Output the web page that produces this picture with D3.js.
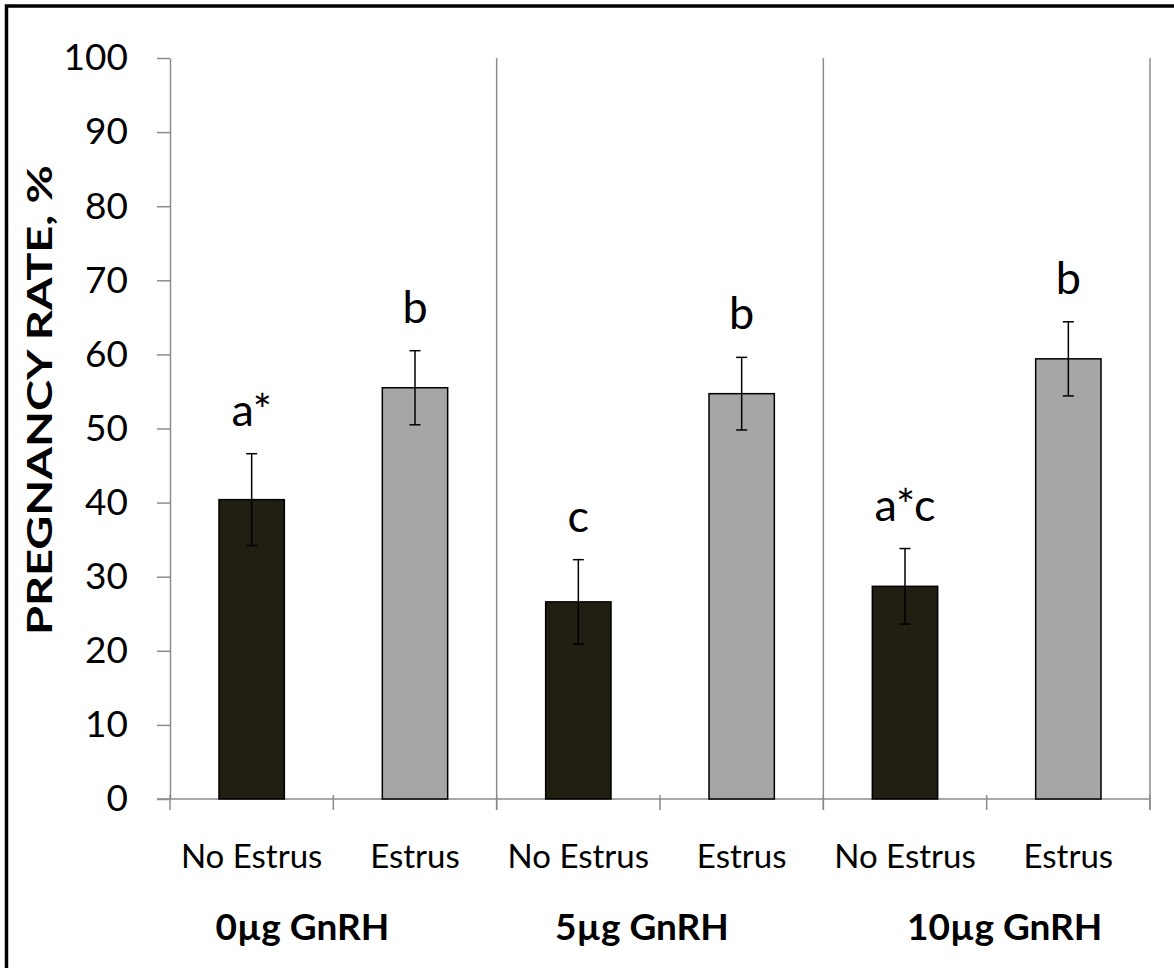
<!DOCTYPE html>
<html>
<head>
<meta charset="utf-8">
<script src="https://cdn.jsdelivr.net/npm/d3@7"></script>
<style>
  html, body { margin: 0; padding: 0; background: #fff; }
  svg { display: block; }
</style>
</head>
<body>
<svg id="chart" width="1174" height="968"></svg>
<script>
// GnRH dose groups and estrus status within each group
const groups = ["0µg GnRH", "5µg GnRH", "10µg GnRH"];
const states = ["No Estrus", "Estrus"];
// Pregnancy rate (%) per bar, in group order: [No Estrus, Estrus] x 3
const rates = [40.4, 55.5, 26.6, 54.7, 28.7, 59.4];
// Standard error of each rate
const errors = [6.2, 5.0, 5.7, 4.9, 5.1, 5.0];
// Significance letters above each bar
const letters = ["a*", "b", "c", "b", "a*c", "b"];
// Y axis ticks
const yTicks = [0, 10, 20, 30, 40, 50, 60, 70, 80, 90, 100];

const rows = rates.map((v, i) => ({
  key: i,
  group: groups[Math.floor(i / states.length)],
  state: states[i % states.length],
  value: v,
  err: errors[i],
  letter: letters[i]
}));

const svg = d3.select("#chart");
const W = 1174, H = 968;
const plot = { left: 170, right: 1150, top: 58, bottom: 799 };
const axisColor = "#8c8c8c";
const font = "Lato, 'Open Sans', sans-serif";

// outer frame
svg.append("rect")
  .attr("x", 6.5).attr("y", 6)
  .attr("width", W).attr("height", H)
  .attr("fill", "none").attr("stroke", "#000").attr("stroke-width", 3.5);

const x = d3.scaleBand()
  .domain(rows.map(d => d.key))
  .range([plot.left, plot.right])
  .paddingInner(0).paddingOuter(0);

const gx = d3.scaleBand()
  .domain(groups)
  .range([plot.left, plot.right]);

const y = d3.scaleLinear().domain([0, 100]).range([plot.bottom, plot.top]);

const barW = x.bandwidth() / 2.5;

// Y axis
const yAxis = svg.append("g")
  .attr("transform", `translate(${plot.left},0)`)
  .call(d3.axisLeft(y).tickValues(yTicks).tickSize(13).tickPadding(29).tickSizeOuter(0));
yAxis.select(".domain").attr("stroke", axisColor).attr("stroke-width", 1.5);
yAxis.selectAll(".tick line").attr("stroke", axisColor).attr("stroke-width", 1.5);
yAxis.selectAll(".tick text")
  .attr("font-family", font).attr("font-size", 37).attr("fill", "#000");

// group separators running the full plot height
svg.append("g").selectAll("line")
  .data(groups.slice(1).concat(["__end"]))
  .join("line")
  .attr("x1", d => d === "__end" ? plot.right : gx(d))
  .attr("x2", d => d === "__end" ? plot.right : gx(d))
  .attr("y1", plot.top).attr("y2", plot.bottom + 11)
  .attr("stroke", axisColor).attr("stroke-width", 1.5);

// X axis baseline and category ticks
svg.append("line")
  .attr("x1", plot.left - 13).attr("x2", plot.right)
  .attr("y1", y(0)).attr("y2", y(0))
  .attr("stroke", axisColor).attr("stroke-width", 1.5);
svg.append("g").selectAll("line")
  .data(rows.map(d => d.key).concat(["__end"]))
  .join("line")
  .attr("x1", d => d === "__end" ? plot.right : x(d))
  .attr("x2", d => d === "__end" ? plot.right : x(d))
  .attr("y1", y(0) - 4).attr("y2", y(0) + 11)
  .attr("stroke", axisColor).attr("stroke-width", 1.5);

// bars
svg.append("g").selectAll("rect")
  .data(rows)
  .join("rect")
  .attr("x", d => x(d.key) + (x.bandwidth() - barW) / 2)
  .attr("y", d => y(d.value))
  .attr("width", barW)
  .attr("height", d => y(0) - y(d.value))
  .attr("fill", d => d.state === "Estrus" ? "#a6a6a6" : "#211e12")
  .attr("stroke", "#000").attr("stroke-width", 1.5);

// error bars
const eb = svg.append("g").selectAll("g").data(rows).join("g")
  .attr("stroke", "#000").attr("stroke-width", 1.5);
const cx = d => x(d.key) + x.bandwidth() / 2;
eb.append("line")
  .attr("x1", cx).attr("x2", cx)
  .attr("y1", d => y(d.value + d.err)).attr("y2", d => y(d.value - d.err));
eb.append("line")
  .attr("x1", d => cx(d) - 5.5).attr("x2", d => cx(d) + 5.5)
  .attr("y1", d => y(d.value + d.err)).attr("y2", d => y(d.value + d.err));
eb.append("line")
  .attr("x1", d => cx(d) - 5.5).attr("x2", d => cx(d) + 5.5)
  .attr("y1", d => y(d.value - d.err)).attr("y2", d => y(d.value - d.err));

// significance letters
svg.append("g").selectAll("text")
  .data(rows)
  .join("text")
  .attr("x", cx)
  .attr("y", d => y(d.value + d.err) - 28)
  .attr("text-anchor", "middle")
  .attr("font-family", font).attr("font-size", 45).attr("fill", "#000")
  .text(d => d.letter);

// category labels
svg.append("g").selectAll("text")
  .data(rows)
  .join("text")
  .attr("x", cx)
  .attr("y", 868)
  .attr("text-anchor", "middle")
  .attr("font-family", font).attr("font-size", 33).attr("fill", "#000")
  .text(d => d.state);

// group labels
const groupNudge = [-31, -18, 18];
svg.append("g").selectAll("text")
  .data(groups)
  .join("text")
  .attr("x", (d, i) => gx(d) + gx.bandwidth() / 2 + groupNudge[i])
  .attr("y", 940)
  .attr("text-anchor", "middle")
  .attr("font-family", font).attr("font-weight", 700).attr("font-size", 37).attr("fill", "#000")
  .text(d => d);

// Y axis title
svg.append("text")
  .attr("transform", `translate(52,400) rotate(-90)`)
  .attr("text-anchor", "middle")
  .attr("font-family", font).attr("font-weight", 700).attr("font-size", 35).attr("fill", "#000")
  .attr("textLength", 470).attr("lengthAdjust", "spacingAndGlyphs")
  .text("PREGNANCY RATE, %");
</script>
</body>
</html>
